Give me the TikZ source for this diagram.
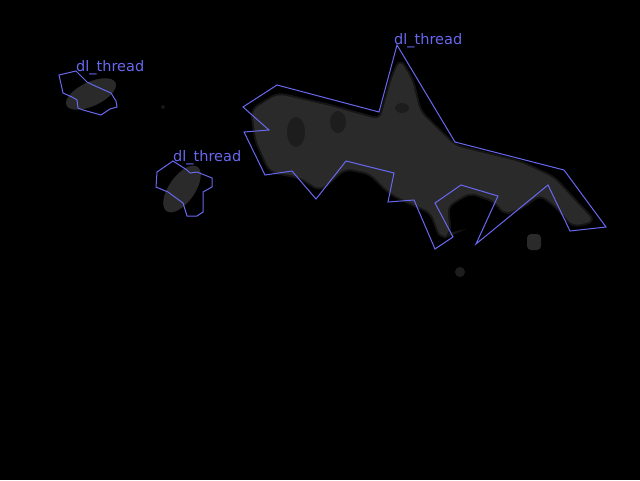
\documentclass[tikz,border=0pt]{standalone}
\usepackage{fontspec}
\setmainfont{DejaVu Sans}
\definecolor{contour}{RGB}{104,104,240}
\definecolor{blob}{RGB}{42,42,42}

\begin{document}
\begin{tikzpicture}[x=1pt,y=-1pt,
    ContourStyle/.style={draw=contour,line width=1pt,line join=miter},
    BlobStyle/.style={fill=blob,draw=blob,draw opacity=.5,line width=4pt,rounded corners=7pt},
    HoleStyle/.style={fill=black,opacity=.3},
    TagStyle/.style={text=contour,inner sep=0pt,anchor=base west,
                     font=\fontsize{14.5}{16}\selectfont}]
 \fill[black] (0,0) rectangle (640,480);
 \useasboundingbox (0,0) rectangle (640,480);
 % grey masks
 \path[BlobStyle] (252,110) -- (278,94) -- (330,106) -- (380,120) -- (392,78)
   -- (400,60) -- (412,80) -- (420,112) -- (455,146) -- (520,162) -- (554,178)
   -- (576,202) -- (594,221) -- (573,226) -- (556,206) -- (540,194) -- (522,207)
   -- (505,214) -- (495,201) -- (470,192) -- (447,206) -- (450,234) -- (441,238)
   -- (431,212) -- (410,203) -- (390,193) -- (370,173) -- (345,168) -- (320,190)
   -- (300,177) -- (270,171) -- (256,140) -- cycle;
 \fill[HoleStyle] (296,132) ellipse (9 and 15);
 \fill[HoleStyle] (338,122) ellipse (8 and 11);
 \fill[HoleStyle] (402,108) ellipse (7 and 5);
 \fill[blob,rounded corners=4pt] (527,234) rectangle (541,250);
 \fill[blob,opacity=.7] (460,272) circle (5);
 \fill[blob,opacity=.5] (163,107) circle (2);
 \fill[blob,rotate around={25:(91,94)}] (91,94) ellipse (27 and 12);
 \fill[blob,rotate around={55:(182,189)}] (182,189) ellipse (27 and 13);
 % outlines
 \draw[ContourStyle] (76,71) -- (59,75) -- (63,93) -- (72,97) -- (77,100)
   -- (78,108) -- (83,110) -- (101,115) -- (110,109) -- (117,107) -- (116,101)
   -- (111,93) -- (93,85) -- (87,82) -- cycle;
 \draw[ContourStyle] (173,161) -- (157,172) -- (156,187) -- (168,192) -- (183,203)
   -- (187,216) -- (197,216) -- (203,212) -- (203,192) -- (212,187) -- (212,178)
   -- (197,172) -- (190,173) -- (187,170) -- cycle;
 \draw[ContourStyle] (397,45) -- (379,112) -- (277,85) -- (243,107) -- (269,130)
   -- (244,132) -- (265,175) -- (292,171) -- (316,199) -- (346,161) -- (394,173)
   -- (388,202) -- (414,200) -- (435,249) -- (453,237) -- (435,203) -- (461,185)
   -- (498,196) -- (476,244) -- (548,185) -- (570,231) -- (606,227) -- (564,170)
   -- (455,142) -- cycle;
 % class tags
 \node[TagStyle] (tagA) at (76,71) {dl\_thread};
 \node[TagStyle] (tagB) at (173,161) {dl\_thread};
 \node[TagStyle] (tagC) at (394,44) {dl\_thread};
\end{tikzpicture}
\end{document}
